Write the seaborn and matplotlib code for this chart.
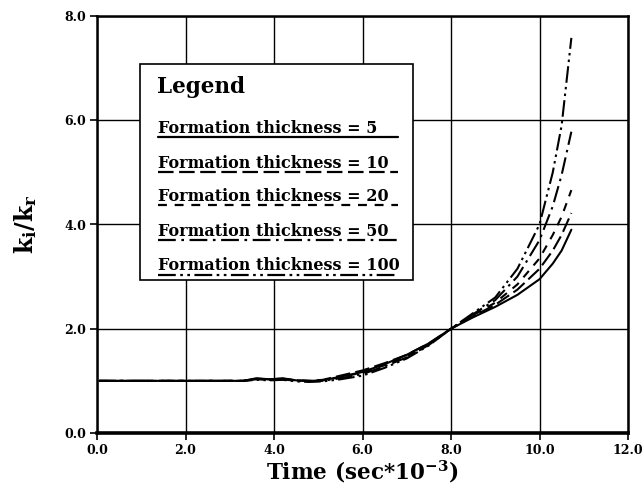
import matplotlib
matplotlib.use("Agg")
import matplotlib.pyplot as plt
import seaborn as sns
import pandas as pd
from matplotlib.lines import Line2D
from matplotlib.patches import Rectangle

# ---- data ----
time = [0.05, 1.0, 2.0, 3.0, 3.3, 3.6, 3.9, 4.2, 4.5, 4.8, 5.1, 5.5, 6.0, 6.5,
        7.0, 7.5, 8.0, 8.5, 9.0, 9.5, 10.0, 10.3, 10.5, 10.72]
thick5 = [1.0, 1.0, 1.0, 1.0, 1.0, 1.05, 1.03, 1.05, 1.01, 1.0, 1.01, 1.08, 1.17, 1.32,
          1.50, 1.72, 2.0, 2.22, 2.42, 2.65, 2.95, 3.25, 3.50, 3.90]
thick10 = [1.0, 1.0, 1.0, 1.0, 1.0, 1.04, 1.03, 1.04, 1.01, 1.0, 1.02, 1.10, 1.20, 1.34,
           1.50, 1.72, 2.0, 2.24, 2.46, 2.75, 3.15, 3.50, 3.80, 4.22]
thick20 = [1.0, 1.0, 1.0, 1.0, 1.0, 1.04, 1.03, 1.04, 1.01, 1.0, 1.01, 1.07, 1.16, 1.30,
           1.47, 1.70, 2.0, 2.26, 2.50, 2.85, 3.35, 3.80, 4.15, 4.66]
thick50 = [1.0, 1.0, 1.0, 1.0, 1.0, 1.03, 1.02, 1.03, 1.0, 0.99, 1.0, 1.05, 1.13, 1.28,
           1.45, 1.69, 2.0, 2.28, 2.55, 3.00, 3.70, 4.35, 4.95, 5.78]
thick100 = [1.0, 1.0, 1.0, 1.0, 1.0, 1.02, 1.01, 1.02, 0.99, 0.98, 0.99, 1.03, 1.10, 1.25,
            1.43, 1.68, 2.0, 2.30, 2.60, 3.15, 4.00, 5.00, 5.90, 7.58]
series_names = ["5", "10", "20", "50", "100"]
series_vals = [thick5, thick10, thick20, thick50, thick100]
xticks = [0, 2, 4, 6, 8, 10, 12]
yticks = [0, 2, 4, 6, 8]
legend_title = "Legend"
legend_labels = ["Formation thickness = 5", "Formation thickness = 10",
                 "Formation thickness = 20", "Formation thickness = 50",
                 "Formation thickness = 100"]

rows = []
for name, vals in zip(series_names, series_vals):
    for t, v in zip(time, vals):
        rows.append({"time": t, "ratio": v, "thickness": name})
df = pd.DataFrame(rows)

sns.set_theme(style="white")
plt.rcParams["font.family"] = ["DejaVu Serif"]
plt.rcParams["font.weight"] = "bold"
plt.rcParams["text.color"] = "black"
plt.rcParams["axes.labelcolor"] = "black"
plt.rcParams["xtick.color"] = "black"
plt.rcParams["ytick.color"] = "black"
plt.rcParams["mathtext.fontset"] = "custom"
plt.rcParams["mathtext.rm"] = "DejaVu Serif:bold"
plt.rcParams["mathtext.bf"] = "DejaVu Serif:bold"
plt.rcParams["mathtext.it"] = "DejaVu Serif:bold"

dash_styles = {
    "5": "",
    "10": (7, 2.5),
    "20": (4, 3.5),
    "50": (8, 2.5, 1.2, 2.5),
    "100": (8, 2, 1.2, 2, 1.2, 2),
}

fig = plt.figure(figsize=(6.44, 4.94), dpi=100)
ax = fig.add_axes([97 / 644, 1 - 433 / 494, 531 / 644, 417 / 494])

sns.lineplot(data=df, x="time", y="ratio", style="thickness",
             style_order=series_names, dashes=dash_styles, color="black",
             linewidth=1.5, legend=False, ax=ax, sort=False, estimator=None)

ax.set_xlim(0, 12)
ax.set_ylim(0, 8)
ax.set_xticks(xticks)
ax.set_yticks(yticks)
ax.set_xticklabels([f"{v:.1f}" for v in xticks], fontsize=9, fontweight="bold",
                   color="black")
ax.set_yticklabels([f"{v:.1f}" for v in yticks], fontsize=9, fontweight="bold",
                   color="black")
ax.tick_params(axis="both", direction="out", length=5, width=1.2, color="black",
               pad=3, bottom=True, left=True)
ax.grid(True, color="black", linewidth=1.0)
for side in ["top", "right", "left"]:
    ax.spines[side].set_color("black")
    ax.spines[side].set_linewidth(1.8)
ax.spines["bottom"].set_color("black")
ax.spines["bottom"].set_linewidth(2.6)

ax.set_xlabel(r"Time (sec*10$^{\mathbf{-3}}$)", fontsize=15.5, fontweight="bold",
              labelpad=1, color="black")
ax.set_ylabel(r"$\mathbf{k_i/k_r}$", fontsize=17, fontweight="bold", labelpad=18,
              color="black")

# ---- hand-drawn style legend box ----
def fx(px):
    return (px - 97) / 531

def fy(py):
    return (433 - py) / 417

box = Rectangle((fx(140), fy(280)), fx(413) - fx(140), fy(64) - fy(280),
                transform=ax.transAxes, facecolor="white", edgecolor="black",
                linewidth=1.2, zorder=5)
ax.add_patch(box)
ax.text(fx(157), fy(93), legend_title, transform=ax.transAxes, fontsize=15.5,
        fontweight="bold", ha="left", va="baseline", zorder=6, color="black")
text_base = [133, 168, 201, 236, 270]
under = [137.5, 172, 205.5, 240.5, 275]
for lab, name, tb, ub in zip(legend_labels, series_names, text_base, under):
    ax.text(fx(158), fy(tb), lab, transform=ax.transAxes, fontsize=11.5,
            fontweight="bold", ha="left", va="baseline", zorder=6, color="black")
    ln = Line2D([fx(158), fx(398)], [fy(ub), fy(ub)], transform=ax.transAxes,
                color="black", linewidth=1.6, zorder=6)
    if dash_styles[name]:
        ln.set_dashes(dash_styles[name])
    ax.add_line(ln)

fig.savefig("out.png", dpi=100)
